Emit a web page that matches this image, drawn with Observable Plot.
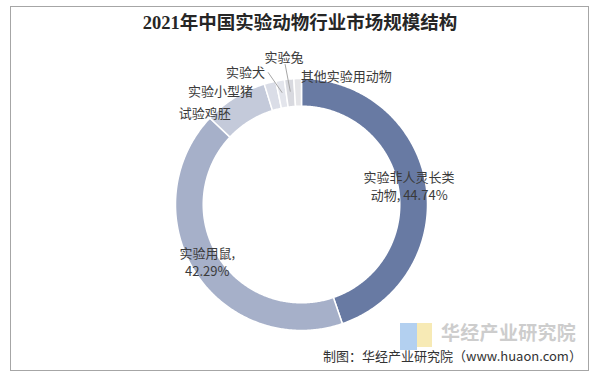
<!DOCTYPE html>
<html><head><meta charset="utf-8">
<script src="https://cdn.jsdelivr.net/npm/d3@7"></script>
<script src="https://cdn.jsdelivr.net/npm/@observablehq/plot@0.6"></script>
<style>
html,body{margin:0;padding:0;background:#fff;}
#wrap{position:relative;width:600px;height:378px;overflow:hidden;font-family:"Noto Sans CJK SC","Noto Sans",sans-serif;}
#frame{position:absolute;left:10px;top:6px;width:579px;height:365px;border:1px solid #a6a6a6;box-sizing:border-box;}
#title{position:absolute;left:0;width:600px;top:12px;line-height:22px;text-align:center;font-family:"Liberation Serif","Noto Sans CJK SC",serif;font-size:18.5px;font-weight:bold;color:#262626;}
#chart{position:absolute;left:0;top:0;}
#wm{position:absolute;left:441px;top:321px;line-height:22px;font-size:19px;font-weight:bold;color:#cdcdcd;letter-spacing:0.3px;}
#logoB{position:absolute;left:400px;top:323px;width:17px;height:27px;background:#b3d0f0;}
#logoY{position:absolute;left:417px;top:323px;width:15px;height:24px;background:#f7eab5;}
#caption{position:absolute;left:323px;top:348px;line-height:16px;font-size:13px;color:#333;}
</style></head><body>
<div id="wrap">
  <div id="frame"></div>
  <div id="logoB"></div><div id="logoY"></div>
  <div id="wm">华经产业研究院</div>
  <div id="chart"></div>
  <div id="title">2021年中国实验动物行业市场规模结构</div>
  <div id="caption">制图：华经产业研究院（www.huaon.com）</div>
</div>
<script>
// ---- data ----
const categories = ["实验非人灵长类动物", "实验用鼠", "试验鸡胚", "实验小型猪", "实验犬", "实验兔", "其他实验用动物"];
const shares = [44.74, 42.29, 8.2, 1.5, 1.1, 1.2, 0.97];
const labelTexts = ["实验非人灵长类\n动物, 44.74%", "实验用鼠,\n42.29%", "试验鸡胚", "实验小型猪", "实验犬", "实验兔", "其他实验用动物"];
const colors = ["#687aa3", "#a6b0c9", "#c4cada", "#dadde7", "#e3e5ec", "#d8d9df", "#e4e4e7"];

// ---- layout ----
const W = 600, H = 378, cx = 301, cy = 204, R = 126, inner = 0.78;
const labelLayout = [
  {r: 0.89, dx: -3, dy: -1, anchor: "middle"},
  {r: 0.89, dx: 0, dy: -4, anchor: "middle"},
  {r: 1, dx: -4, dy: 15, anchor: "end"},
  {r: 1, dx: -17, dy: 8, anchor: "end"},
  {r: 1, dx: -15, dy: -9, anchor: "end", leader: [3, 1]},
  {r: 1, dx: -5, dy: -23, anchor: "middle", leader: [1, 8]},
  {r: 1, dx: 3, dy: -3, anchor: "start"}
];

const arcs = d3.pie().sort(null).value(d => d)(shares);
const poly = [];
arcs.forEach((a, i) => {
  const n = Math.max(2, Math.ceil((a.endAngle - a.startAngle) / 0.01));
  for (let k = 0; k <= n; k++) {
    const t = a.startAngle + (a.endAngle - a.startAngle) * k / n;
    poly.push({name: categories[i], x: Math.sin(t), y: Math.cos(t)});
  }
  for (let k = n; k >= 0; k--) {
    const t = a.startAngle + (a.endAngle - a.startAngle) * k / n;
    poly.push({name: categories[i], x: inner * Math.sin(t), y: inner * Math.cos(t)});
  }
});

const labels = arcs.map((a, i) => {
  const L = labelLayout[i];
  const m = (a.startAngle + a.endAngle) / 2;
  const x = L.r * Math.sin(m) + L.dx / R;
  const y = L.r * Math.cos(m) - L.dy / R;
  return {text: labelTexts[i], x, y, anchor: L.anchor, m, leader: L.leader};
});
const leaders = labels.filter(d => d.leader).map(d => ({
  x1: d.x + d.leader[0] / R, y1: d.y - d.leader[1] / R,
  x2: 0.9 * Math.sin(d.m), y2: 0.9 * Math.cos(d.m)
}));

const textOpts = {fontSize: 13, fill: "#3a3a3a", lineHeight: 1.4, lineAnchor: "middle"};
const chart = Plot.plot({
  width: W, height: H,
  margin: 0,
  x: {domain: [(0 - cx) / R, (W - cx) / R], axis: null},
  y: {domain: [(cy - H) / R, cy / R], axis: null},
  color: {type: "ordinal", domain: categories, range: colors},
  style: {fontFamily: "'Noto Sans CJK SC','Noto Sans',sans-serif", background: "transparent"},
  marks: [
    Plot.line(poly, {x: "x", y: "y", z: "name", fill: "name", stroke: "#ffffff", strokeWidth: 1.5, curve: "linear-closed"}),
    Plot.link(leaders, {x1: "x1", y1: "y1", x2: "x2", y2: "y2", stroke: "#a6a6a6", strokeWidth: 1}),
    ...["start", "middle", "end"].map(an =>
      Plot.text(labels.filter(d => d.anchor === an), {x: "x", y: "y", text: "text", textAnchor: an, ...textOpts}))
  ]
});
document.getElementById("chart").appendChild(chart);
</script>
</body></html>
